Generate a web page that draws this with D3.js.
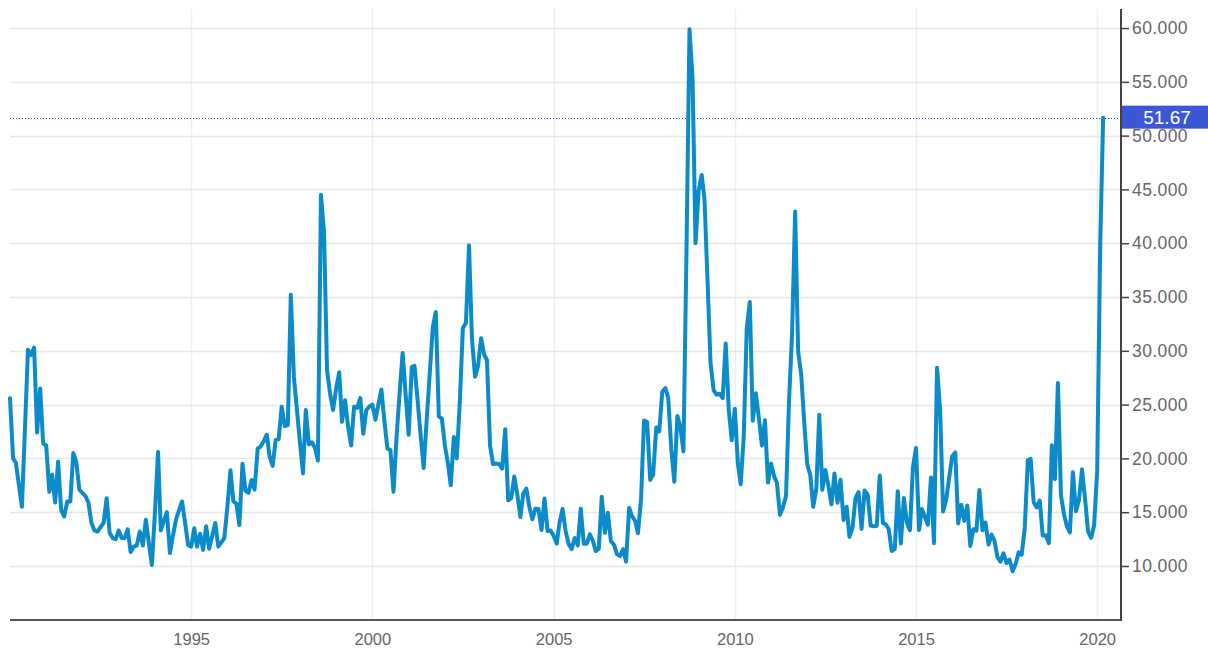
<!DOCTYPE html>
<html>
<head>
<meta charset="utf-8">
<script src="https://cdn.jsdelivr.net/npm/d3@7"></script>
<style>
  html, body { margin: 0; padding: 0; background: #ffffff; }
  svg { display: block; }
</style>
</head>
<body>
<svg id="chart" width="1208" height="654"></svg>
<script>
// ---- data: monthly closes, first value = January 1990 ----
const startMonth = "1990-01";
const vixMonthly = [
  25.6, 20.0, 19.6, 17.5, 15.5, 22.8, 30.1, 29.6, 30.3, 22.4, 26.5, 21.4,   // 1990
  21.2, 16.9, 18.5, 15.9, 19.7, 15.2, 14.6, 16.0, 16.0, 20.5, 19.6, 17.1,   // 1991
  16.8, 16.5, 15.9, 14.0, 13.3, 13.2, 13.6, 14.0, 16.3, 13.1, 12.6, 12.5,   // 1992
  13.3, 12.6, 12.6, 13.4, 11.3, 11.8, 11.9, 13.2, 11.9, 14.3, 12.1, 10.1,   // 1993
  15.0, 20.6, 13.3, 14.2, 15.0, 11.2, 12.8, 14.3, 15.2, 16.0, 14.0, 11.95,  // 1994
  11.8, 13.5, 11.8, 13.0, 11.5, 13.7, 11.6, 12.8, 14.0, 11.8, 12.2, 12.6,   // 1995
  15.5, 18.9, 16.0, 15.8, 13.8, 19.5, 17.0, 16.8, 18.0, 17.1, 20.9, 21.1,   // 1996
  21.6, 22.2, 20.2, 19.3, 21.7, 21.8, 24.8, 23.0, 23.1, 35.2, 27.6, 24.6,   // 1997
  21.5, 18.6, 24.5, 21.3, 21.5, 21.0, 19.8, 44.5, 41.0, 28.2, 26.0, 24.5,   // 1998
  26.5, 28.0, 23.4, 25.4, 23.0, 21.2, 24.8, 24.7, 25.6, 22.3, 24.5, 24.8,   // 1999
  25.0, 23.6, 25.0, 26.4, 23.5, 20.9, 20.8, 16.9, 22.0, 26.0, 29.8, 26.0,   // 2000
  22.2, 28.5, 28.6, 25.4, 22.2, 19.1, 23.5, 27.8, 32.2, 33.6, 23.9, 23.7,   // 2001
  21.2, 19.5, 17.5, 22.0, 20.0, 25.4, 32.1, 32.6, 39.8, 31.1, 27.6, 28.6,   // 2002
  31.17, 29.63, 29.15, 21.21, 19.47, 19.52, 19.49, 19.05, 22.72, 16.10, 16.32, 18.31, // 2003
  16.63, 14.55, 16.74, 17.19, 15.50, 14.34, 15.32, 15.29, 13.34, 16.27, 13.24, 13.29, // 2004
  12.82, 12.08, 14.02, 15.31, 13.29, 12.04, 11.57, 12.60, 11.92, 15.32, 12.06, 12.07, // 2005
  12.95, 12.34, 11.39, 11.59, 16.44, 13.08, 14.95, 12.31, 11.98, 11.10, 10.91, 11.56, // 2006
  10.42, 15.42, 14.64, 14.22, 13.05, 16.23, 23.52, 23.38, 18.00, 18.53, 22.87, 22.50, // 2007
  26.20, 26.54, 25.61, 20.79, 17.83, 23.95, 22.94, 20.65, 39.39, 59.89, 55.28, 40.00, // 2008
  44.84, 46.35, 44.14, 36.50, 28.92, 26.35, 25.92, 26.01, 25.61, 30.69, 24.51, 21.68, // 2009
  24.62, 19.50, 17.59, 22.05, 32.07, 34.54, 23.50, 26.05, 23.70, 21.20, 23.54, 17.75, // 2010
  19.53, 18.35, 17.74, 14.75, 15.45, 16.52, 25.25, 31.62, 42.96, 29.96, 27.80, 23.40, // 2011
  19.44, 18.43, 15.50, 17.15, 24.06, 17.08, 18.93, 17.47, 15.73, 18.60, 15.87, 18.02, // 2012
  14.28, 15.51, 12.70, 13.52, 16.30, 16.86, 13.45, 17.01, 16.60, 13.75, 13.70, 13.72, // 2013
  18.41, 14.00, 13.88, 13.41, 11.40, 11.57, 16.95, 12.09, 16.31, 14.03, 13.33, 19.20, // 2014
  20.97, 13.34, 15.29, 14.55, 13.84, 18.23, 12.12, 28.43, 24.50, 15.07, 16.13, 18.21, // 2015
  20.20, 20.55, 13.95, 15.70, 14.19, 15.63, 11.87, 13.42, 13.29, 17.06, 13.33, 14.04, // 2016
  11.99, 12.92, 12.37, 10.82, 10.41, 11.18, 10.26, 10.59, 9.51, 10.18, 11.28, 11.04,  // 2017
  13.54, 19.85, 19.97, 15.93, 15.43, 16.09, 12.83, 12.86, 12.12, 21.23, 18.07, 27.00, // 2018
  16.57, 14.78, 13.71, 13.12, 18.71, 15.08, 16.12, 18.98, 16.24, 13.22, 12.62, 13.78, // 2019
  18.84, 40.11, 51.67                                                                 // 2020
];
const lastValue = 51.67;
const xTickYears = [1995, 2000, 2005, 2010, 2015, 2020];
const yTickValues = [10, 15, 20, 25, 30, 35, 40, 45, 50, 55, 60];

// ---- layout ----
const plotLeft = 10, plotRight = 1121, plotTop = 9, plotBottom = 620;
const svg = d3.select("#chart");

const parseMonth = d3.timeParse("%Y-%m");
const t0 = parseMonth(startMonth);
const data = vixMonthly.map((v, i) => ({ date: d3.timeMonth.offset(t0, i), value: v }));

const x = d3.scaleTime()
  .domain([new Date(1990, 0, 1), new Date(2020, 7, 28)])
  .range([plotLeft, plotRight]);
const y = d3.scaleLinear()
  .domain([4.98, 61.77])
  .range([plotBottom, plotTop]);

// vertical grid
svg.append("g").selectAll("line")
  .data(xTickYears)
  .join("line")
  .attr("x1", d => Math.round(x(new Date(d, 0, 1))) + 0.5)
  .attr("x2", d => Math.round(x(new Date(d, 0, 1))) + 0.5)
  .attr("y1", plotTop).attr("y2", plotBottom)
  .attr("stroke", "#e9eff4").attr("stroke-width", 1.5);

// horizontal grid
svg.append("g").selectAll("line")
  .data(yTickValues)
  .join("line")
  .attr("x1", plotLeft).attr("x2", plotRight)
  .attr("y1", d => Math.round(y(d)) + 0.5)
  .attr("y2", d => Math.round(y(d)) + 0.5)
  .attr("stroke", "#e6e6e6").attr("stroke-width", 1.5);

// last value dotted line
svg.append("line")
  .attr("x1", plotLeft).attr("x2", plotRight)
  .attr("y1", Math.round(y(lastValue)) + 0.5).attr("y2", Math.round(y(lastValue)) + 0.5)
  .attr("stroke", "#3344ee").attr("stroke-width", 1)
  .attr("stroke-dasharray", "1,2");

// series line
const line = d3.line()
  .x(d => x(d.date))
  .y(d => y(d.value))
  .curve(d3.curveLinear);

svg.append("path")
  .datum(data)
  .attr("fill", "none")
  .attr("stroke", "#0b8bc9")
  .attr("stroke-width", 4)
  .attr("stroke-linejoin", "round")
  .attr("stroke-linecap", "round")
  .attr("d", line);

// x axis
const xAxis = d3.axisBottom(x)
  .tickValues(xTickYears.map(yr => new Date(yr, 0, 1)))
  .tickFormat(d3.timeFormat("%Y"))
  .tickSize(0)
  .tickPadding(13);
const gx = svg.append("g")
  .attr("transform", `translate(0,${plotBottom})`)
  .call(xAxis);
gx.select(".domain").remove();
gx.selectAll("text")
  .attr("font-family", "Arial, 'Liberation Sans', sans-serif")
  .attr("font-size", 16.5)
  .attr("fill", "#666");
svg.append("line")
  .attr("x1", plotLeft).attr("x2", plotRight)
  .attr("y1", plotBottom).attr("y2", plotBottom)
  .attr("stroke", "#555").attr("stroke-width", 2);

// y axis on the right
const yAxis = d3.axisRight(y)
  .tickValues(yTickValues)
  .tickFormat(d3.format(".3f"))
  .tickSize(8)
  .tickPadding(3);
const gy = svg.append("g")
  .attr("transform", `translate(${plotRight},0)`)
  .call(yAxis);
gy.select(".domain").remove();
gy.selectAll(".tick line").attr("stroke", "#444").attr("stroke-width", 1.5);
gy.selectAll("text")
  .attr("font-family", "Arial, 'Liberation Sans', sans-serif")
  .attr("font-size", 17.5)
  .attr("letter-spacing", 0.4)
  .attr("fill", "#666");
svg.append("line")
  .attr("x1", plotRight).attr("x2", plotRight)
  .attr("y1", plotTop).attr("y2", plotBottom + 1)
  .attr("stroke", "#444").attr("stroke-width", 2);

// last value label
const ly = y(lastValue);
svg.append("rect")
  .attr("x", plotRight + 1).attr("y", ly - 12)
  .attr("width", 1208 - plotRight).attr("height", 23)
  .attr("fill", "#3a58d6");
svg.append("text")
  .attr("x", 1167).attr("y", ly + 6.5)
  .attr("text-anchor", "middle")
  .attr("font-family", "Arial, 'Liberation Sans', sans-serif")
  .attr("font-size", 19)
  .attr("fill", "#ffffff")
  .text(d3.format(".2f")(lastValue));
</script>
</body>
</html>
